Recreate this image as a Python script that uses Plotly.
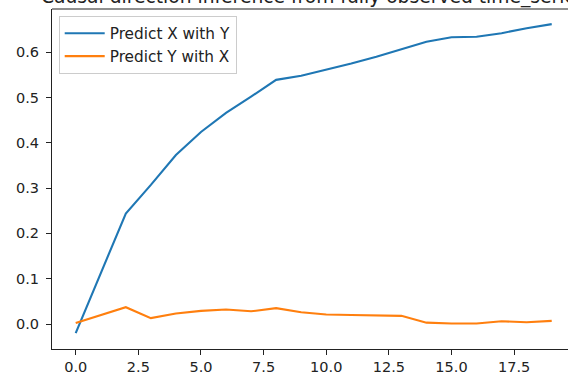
import plotly.graph_objects as go

steps = list(range(20))
predict_x_with_y = [-0.020, 0.110, 0.244, 0.307, 0.373, 0.424, 0.466, 0.502, 0.539,
                    0.548, 0.561, 0.575, 0.590, 0.606, 0.623, 0.633, 0.634, 0.642,
                    0.653, 0.662]
predict_y_with_x = [0.002, 0.019, 0.037, 0.013, 0.023, 0.029, 0.032, 0.028, 0.035,
                    0.026, 0.021, 0.020, 0.019, 0.018, 0.003, 0.001, 0.001, 0.006,
                    0.004, 0.007]
series_names = ["Predict X with Y", "Predict Y with X"]
x_ticks = [0, 2.5, 5, 7.5, 10, 12.5, 15, 17.5]
y_ticks = [0.0, 0.1, 0.2, 0.3, 0.4, 0.5, 0.6]
title_text = "Causal direction inference from fully observed time_series"

FONT = "DejaVu Sans"
fig = go.Figure()
fig.add_trace(go.Scatter(x=steps, y=predict_x_with_y, mode="lines", name=series_names[0],
                         line=dict(color="#1f77b4", width=2.1)))
fig.add_trace(go.Scatter(x=steps, y=predict_y_with_x, mode="lines", name=series_names[1],
                         line=dict(color="#ff7f0e", width=2.1)))

axis_common = dict(showgrid=False, zeroline=False, showline=True, linecolor="#222",
                   linewidth=1.2, ticks="outside", ticklen=5, tickwidth=1.2,
                   tickcolor="#222", automargin=False,
                   tickfont=dict(family=FONT, size=14.5, color="#222"))

fig.update_layout(
    width=568, height=375,
    margin=dict(l=52, r=0, t=9, b=26, autoexpand=False),
    paper_bgcolor="white", plot_bgcolor="white",
    font=dict(family=FONT),
    showlegend=True,
    legend=dict(x=0.013, y=0.98, xanchor="left", yanchor="top", itemwidth=40,
                bgcolor="rgba(255,255,255,0.8)", bordercolor="#cccccc", borderwidth=1,
                font=dict(family=FONT, size=15.3, color="#222")),
    xaxis=dict(range=[-0.946, 19.65], tickvals=x_ticks, tickformat=".1f",
               mirror=False, ticklabelstandoff=-1, **axis_common),
    yaxis=dict(range=[-0.0552, 0.6954], tickvals=y_ticks, tickformat=".1f",
               ticklabelstandoff=4, **axis_common),
    shapes=[dict(type="line", xref="paper", yref="paper", x0=0, x1=1, y0=1, y1=1,
                 line=dict(color="#222", width=1.2))],
    annotations=[dict(text=title_text, xref="paper", yref="paper", x=0.5068, y=1,
                      xanchor="center", yanchor="bottom", yshift=-1, showarrow=False,
                      font=dict(family=FONT, size=18.7, color="#222"))],
)

fig.write_html("out.html", config={"displayModeBar": False},
               post_script="document.body.style.margin='0';document.body.style.overflow='hidden';")
